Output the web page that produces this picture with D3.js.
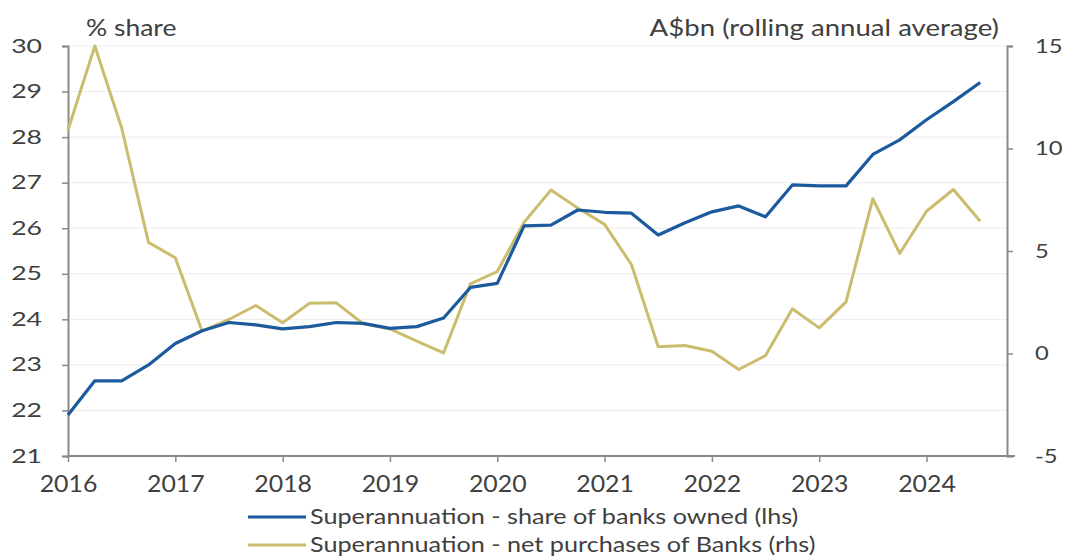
<!DOCTYPE html>
<html>
<head>
<meta charset="utf-8">
<script src="https://cdn.jsdelivr.net/npm/d3@7"></script>
<style>
  body { margin: 0; background: #fff; }
  svg text { font-family: Lato, "Open Sans", sans-serif; fill: #404040; }
</style>
</head>
<body>
<svg id="chart" width="1067" height="558"></svg>
<script>

// quarterly observations, 2016Q1 .. 2024Q3
const quarters = ["2016Q1","2016Q2","2016Q3","2016Q4","2017Q1","2017Q2","2017Q3","2017Q4",
                  "2018Q1","2018Q2","2018Q3","2018Q4","2019Q1","2019Q2","2019Q3","2019Q4",
                  "2020Q1","2020Q2","2020Q3","2020Q4","2021Q1","2021Q2","2021Q3","2021Q4",
                  "2022Q1","2022Q2","2022Q3","2022Q4","2023Q1","2023Q2","2023Q3","2023Q4",
                  "2024Q1","2024Q2","2024Q3"];

// share of banks owned, % (lhs)
const shareOwned = [21.9, 22.65, 22.65, 23.0, 23.47, 23.75, 23.93, 23.88,
                    23.79, 23.84, 23.93, 23.91, 23.80, 23.84, 24.03, 24.70,
                    24.79, 26.05, 26.07, 26.40, 26.35, 26.33, 25.85, 26.12,
                    26.36, 26.49, 26.25, 26.95, 26.93, 26.93, 27.62, 27.94,
                    28.38, 28.78, 29.2];

// net purchases of banks, A$bn rolling annual average (rhs)
const netPurchases = [10.9, 15.0, 11.0, 5.42, 4.67, 1.09, 1.66, 2.34,
                      1.5, 2.45, 2.47, 1.45, 1.2, 0.6, 0.03, 3.4,
                      4.0, 6.4, 7.97, 7.1, 6.3, 4.34, 0.33, 0.39,
                      0.11, -0.78, -0.1, 2.18, 1.25, 2.52, 7.55, 4.88,
                      6.94, 8.0, 6.45];

const leftTicks = [21, 22, 23, 24, 25, 26, 27, 28, 29, 30];
const rightTicks = [-5, 0, 5, 10, 15];
const yearTicks = [2016, 2017, 2018, 2019, 2020, 2021, 2022, 2023, 2024];

const seriesNames = ["Superannuation - share of banks owned (lhs)",
                     "Superannuation - net purchases of Banks (rhs)"];
const colors = ["#1c5a9e", "#cbbd6e"];

// helpers
function quarterToYear(q) {
  return +q.slice(0, 4) + (+q.slice(5) - 1) / 4;
}

// widen text a bit, the source chart uses a wide looking font
function stretch(selection, k) {
  selection.each(function() {
    let w = this.getComputedTextLength();
    d3.select(this).attr("textLength", w * k).attr("lengthAdjust", "spacingAndGlyphs");
  });
}

const svg = d3.select("#chart");
const plotLeft = 68, plotRight = 1007, plotTop = 46, plotBottom = 456;

const x = d3.scaleLinear().domain([2016, 2024.75]).range([plotLeft, plotRight]);
const yL = d3.scaleLinear().domain([21, 30]).range([plotBottom, plotTop]);
const yR = d3.scaleLinear().domain([-5, 15]).range([plotBottom, plotTop]);

// gridlines
svg.append("g").selectAll("line")
  .data(leftTicks.slice(1))
  .enter().append("line")
    .attr("x1", plotLeft).attr("x2", plotRight)
    .attr("y1", d => yL(d)).attr("y2", d => yL(d))
    .attr("stroke", "#ececec")
    .attr("stroke-width", 1);

// axes
function styleAxis(g, size) {
  g.select(".domain").attr("stroke", "#8a8a8a").attr("stroke-width", 2);
  g.selectAll(".tick line").attr("stroke", "#8a8a8a").attr("stroke-width", 1.5);
  g.selectAll(".tick text").attr("fill", "#404040").style("font-size", size + "px")
   .style("font-family", "Lato, 'Open Sans', sans-serif");
}

let yAxisL = svg.append("g")
  .attr("transform", "translate(" + plotLeft + ",0)")
  .call(d3.axisLeft(yL).tickValues(leftTicks).tickSize(6).tickSizeOuter(6).tickPadding(20))
  .call(styleAxis, 19);
yAxisL.selectAll(".tick text").call(stretch, 1.4);

let yAxisR = svg.append("g")
  .attr("transform", "translate(" + plotRight + ",0)")
  .call(d3.axisRight(yR).tickValues(rightTicks).tickFormat(d => String(d))
          .tickSize(6).tickSizeOuter(6).tickPadding(22))
  .call(styleAxis, 19);
yAxisR.selectAll(".tick text").call(stretch, 1.25);

let xAxis = svg.append("g")
  .attr("transform", "translate(0," + plotBottom + ")")
  .call(d3.axisBottom(x).tickValues(yearTicks).tickFormat(d3.format("d"))
          .tickSize(6).tickSizeOuter(0).tickPadding(14))
  .call(styleAxis, 23);
xAxis.select(".domain").attr("d", "M" + plotLeft + ",0H" + (plotRight + 8));
xAxis.selectAll(".tick text").call(stretch, 1.08);

// lines
const blueData = quarters.map((q, i) => ({ t: quarterToYear(q), v: shareOwned[i] }));
const goldData = quarters.map((q, i) => ({ t: quarterToYear(q), v: netPurchases[i] }));

svg.append("path")
  .datum(goldData)
  .attr("fill", "none")
  .attr("stroke", colors[1])
  .attr("stroke-width", 3)
  .attr("stroke-linejoin", "round")
  .attr("d", d3.line().x(d => x(d.t)).y(d => yR(d.v)));

svg.append("path")
  .datum(blueData)
  .attr("fill", "none")
  .attr("stroke", colors[0])
  .attr("stroke-width", 3.2)
  .attr("stroke-linejoin", "round")
  .attr("d", d3.line().x(d => x(d.t)).y(d => yL(d.v)));

// axis titles
svg.append("text")
  .attr("x", 86).attr("y", 36)
  .style("font-size", "23px")
  .text("% share")
  .call(stretch, 1.15);

svg.append("text")
  .attr("x", 999).attr("y", 36)
  .attr("text-anchor", "end")
  .style("font-size", "23px")
  .text("A$bn (rolling annual average)")
  .call(stretch, 1.2);

// legend
let legend = svg.append("g").selectAll("g")
  .data(seriesNames)
  .enter().append("g")
    .attr("transform", (d, i) => "translate(248," + (517 + i * 28) + ")");

legend.append("line")
  .attr("x1", 0).attr("x2", 58)
  .attr("stroke", (d, i) => colors[i])
  .attr("stroke-width", 3);

legend.append("text")
  .attr("x", 62).attr("y", 7)
  .style("font-size", "21px")
  .text(d => d)
  .call(stretch, 1.2);

</script>
</body>
</html>
